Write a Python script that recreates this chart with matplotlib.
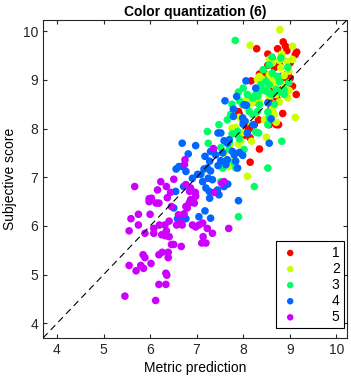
import numpy as np
import matplotlib
matplotlib.use("Agg")
import matplotlib.pyplot as plt

plt.rcParams['font.family'] = ['Liberation Sans', 'DejaVu Sans']

# Class 1 (red)
x1 = [8.29, 8.74, 8.86, 8.91, 9.15, 9.12, 8.94, 8.53, 8.62, 8.53, 8.67, 8.78, 8.96, 8.92, 9.01,
      8.94, 8.88, 8.71, 8.63, 8.49, 8.35, 8.38, 8.42, 8.17, 8.83, 9.06, 9.14, 8.67, 8.72, 8.63,
      8.60, 8.63, 8.85, 8.56, 8.71, 8.76, 8.33, 8.24, 8.13, 8.06, 8.02, 8.15, 8.09, 7.92, 7.90,
      8.35, 8.15, 7.99, 8.26, 8.56, 8.81, 9.01]
y1 = [9.64, 9.64, 9.78, 9.69, 9.57, 9.52, 9.60, 9.53, 9.45, 9.30, 9.25, 9.31, 9.14, 9.04, 9.04,
      9.11, 8.97, 8.94, 8.87, 9.11, 9.12, 8.97, 9.14, 8.98, 8.80, 8.87, 8.70, 8.73, 8.63, 8.49,
      8.41, 8.34, 8.31, 8.08, 8.08, 8.08, 8.18, 8.08, 8.00, 7.91, 7.86, 7.81, 8.05, 8.29, 8.35,
      7.58, 7.31, 8.18, 8.55, 8.56, 9.07, 9.35]

# Class 2 (yellow)
x2 = [8.79, 8.15, 9.06, 9.12, 8.09, 8.50, 8.18, 7.95, 7.90, 7.97, 7.76, 7.84, 8.06, 8.09, 8.15,
      8.20, 8.35, 8.63, 8.67, 8.71, 8.78, 8.96, 8.76, 8.88, 8.63, 8.56, 8.42, 8.35, 8.31, 8.98,
      9.06, 8.96, 8.78, 8.63, 8.56, 8.83, 8.81, 8.88, 8.99, 8.71, 8.56, 8.46, 7.59, 7.77, 7.69,
      8.24, 8.67, 8.94, 8.50, 7.92, 8.37, 7.71, 8.06]
y2 = [10.03, 9.71, 9.69, 8.23, 7.02, 7.82, 7.74, 7.75, 7.68, 7.91, 8.01, 8.02, 8.57, 8.42, 8.66,
      8.53, 8.56, 8.41, 8.29, 8.13, 8.55, 8.63, 8.97, 8.90, 9.01, 9.11, 9.01, 9.07, 9.01, 9.18,
      9.42, 9.25, 9.40, 9.35, 9.42, 9.53, 9.25, 9.09, 8.78, 8.70, 8.66, 8.18, 7.50, 7.33, 7.22,
      8.29, 8.89, 9.38, 8.82, 8.23, 8.77, 7.66, 8.13]

# Class 3 (green)
x3 = [7.83, 7.90, 7.76, 7.48, 7.23, 7.25, 7.76, 7.52, 7.61, 7.80, 7.70, 7.52, 7.90, 8.24, 8.53,
      8.83, 8.27, 8.33, 8.53, 8.56, 8.20, 8.31, 8.35, 8.20, 8.09, 8.27, 8.35, 8.42, 8.49, 8.56,
      8.63, 8.71, 8.78, 8.88, 8.88, 8.43, 8.56, 8.62, 8.81, 8.96, 8.98, 8.78, 8.49, 8.38, 8.56,
      8.00, 8.13, 7.99, 7.92, 7.66, 7.73, 7.88, 7.70, 7.92, 8.02, 7.84, 7.56, 8.63, 8.74, 8.31,
      8.53, 8.67]
y3 = [9.81, 8.75, 8.50, 8.08, 7.94, 7.70, 7.89, 7.61, 7.27, 7.31, 7.57, 6.91, 6.19, 6.81, 7.19,
      7.74, 7.93, 7.91, 8.08, 8.22, 8.29, 8.35, 8.49, 8.63, 8.70, 8.70, 8.78, 8.80, 8.77, 8.73,
      8.70, 8.80, 8.75, 8.70, 8.80, 9.21, 9.31, 9.47, 9.45, 9.26, 8.94, 8.97, 8.97, 8.90, 8.90,
      8.83, 8.35, 8.49, 8.57, 8.18, 8.29, 7.94, 7.72, 7.79, 7.57, 7.19, 7.19, 9.14, 9.07, 8.66,
      8.34, 8.50]

# Class 4 (blue)
x4 = [6.69, 6.98, 6.82, 7.30, 7.36, 7.18, 6.56, 6.62, 6.69, 6.77, 6.91, 7.02, 7.09, 7.16, 7.23,
      7.30, 7.28, 7.41, 7.52, 7.46, 7.46, 7.52, 7.70, 7.66, 7.59, 7.77, 7.81, 7.92, 7.99, 7.84,
      7.88, 7.66, 7.63, 7.56, 7.25, 7.34, 7.13, 7.20, 7.27, 7.45, 7.48, 7.28, 7.18, 7.05, 7.30,
      6.72, 6.55, 6.51, 6.59, 6.68, 6.77, 6.72, 7.67, 7.59, 7.90, 7.61, 7.79, 7.79, 7.86, 8.06,
      8.02, 8.07, 8.27, 8.53, 8.60, 7.99, 8.04, 8.22, 8.09, 8.56, 8.00]
y4 = [7.70, 7.65, 7.48, 7.53, 7.57, 7.43, 7.17, 7.22, 7.22, 7.12, 6.98, 7.06, 7.06, 7.17, 7.19,
      7.13, 7.33, 7.46, 7.34, 7.24, 7.91, 7.91, 7.77, 7.70, 7.75, 7.53, 7.46, 7.51, 7.45, 7.33,
      7.19, 7.36, 7.26, 7.50, 6.98, 6.95, 6.91, 6.78, 6.71, 6.74, 6.64, 6.57, 6.31, 6.19, 6.16,
      6.81, 6.71, 6.37, 6.15, 6.17, 6.15, 6.23, 6.86, 6.81, 6.52, 8.57, 8.40, 8.25, 8.66, 8.98,
      8.49, 8.48, 8.83, 8.53, 8.20, 8.22, 8.15, 8.08, 7.91, 7.70, 8.09]

# Class 5 (purple)
x5 = [5.67, 5.46, 6.12, 6.19, 6.34, 6.36, 6.34, 5.55, 5.70, 5.86, 5.80, 6.02, 5.85, 5.89, 6.19,
      6.26, 6.39, 6.39, 6.67, 6.46, 6.51, 6.41, 6.33, 6.35, 6.25, 6.08, 6.08, 5.89, 5.75, 5.55,
      5.59, 5.75, 6.00, 5.98, 5.98, 6.03, 6.13, 6.19, 6.16, 6.35, 6.23, 6.37, 6.44, 6.51, 6.46,
      6.41, 6.32, 6.20, 6.57, 6.61, 6.66, 6.69, 6.73, 6.77, 6.80, 6.84, 6.87, 6.85, 6.87, 6.97,
      6.98, 6.95, 6.77, 6.91, 6.98, 7.05, 7.13, 7.14, 7.11, 7.20, 7.23, 7.34, 7.69, 6.74, 6.75,
      7.36, 7.38, 7.54, 7.59]
y5 = [6.81, 4.56, 4.47, 4.80, 4.80, 4.99, 5.03, 5.19, 5.08, 5.13, 5.19, 5.23, 5.41, 5.35, 5.41,
      5.46, 5.46, 5.35, 5.58, 5.62, 5.62, 5.78, 5.80, 5.90, 5.82, 5.85, 5.95, 5.85, 6.02, 5.90,
      6.15, 6.24, 6.24, 6.50, 6.56, 6.57, 6.47, 6.47, 6.74, 6.81, 6.91, 6.58, 6.69, 6.96, 6.40,
      6.10, 6.02, 6.02, 6.02, 6.23, 6.06, 6.02, 6.25, 6.40, 6.37, 6.47, 6.54, 6.71, 6.78, 6.69,
      6.61, 6.47, 6.85, 6.02, 5.98, 6.02, 6.06, 5.78, 5.65, 5.65, 5.95, 5.85, 5.95, 7.26, 7.36,
      7.59, 6.69, 6.88, 6.91]

labels = ["1", "2", "3", "4", "5"]
colors = [(1, 0, 0), (0.8, 1, 0), (0, 1, 0.4), (0, 0.4, 1), (0.8, 0, 1)]
lims = [3.7, 10.23]

fig = plt.figure(figsize=(3.51, 3.85), dpi=100)
ax = fig.add_axes([0.1225, 0.1221, 0.866, 0.826])

for xs, ys, c, lab in zip([x1, x2, x3, x4, x5], [y1, y2, y3, y4, y5], colors, labels):
    ax.scatter(xs, ys, s=30, color=c, edgecolors='none', label=lab, zorder=2)

ax.plot(lims, lims, 'k--', linewidth=0.8, dashes=(6, 4), zorder=3)

ax.set_xlim(lims)
ax.set_ylim(lims)
ax.set_xticks(range(4, 11))
ax.set_yticks(range(4, 11))
ax.tick_params(direction='in', top=True, right=True, length=3, labelsize=10, colors='#262626')
for sp in ax.spines.values():
    sp.set_color('#262626')
    sp.set_linewidth(0.8)

ax.set_title("Color quantization (6)", fontsize=10, fontweight='bold', pad=3)
ax.set_xlabel("Metric prediction", fontsize=10, labelpad=3)
ax.set_ylabel("Subjective score", fontsize=10, labelpad=4)

leg = ax.legend(loc='lower right', bbox_to_anchor=(0.99, 0.031), borderaxespad=0,
                fontsize=10, markerscale=0.85, handlelength=1.4, handletextpad=2.3,
                labelspacing=0.15, borderpad=0.3, fancybox=False, framealpha=1,
                edgecolor='black')
leg.get_frame().set_linewidth(0.8)

plt.savefig("out.png", dpi=100)
